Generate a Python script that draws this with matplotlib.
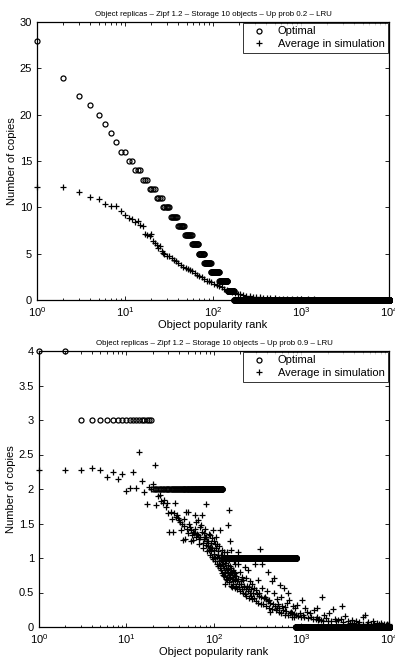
import numpy as np
import matplotlib
matplotlib.use('Agg')
import matplotlib.pyplot as plt
from matplotlib.ticker import LogLocator, NullFormatter, FormatStrFormatter

plt.rcParams['font.family'] = ['Liberation Sans', 'DejaVu Sans']

n_objects = 10000

# optimal number of copies: value and last rank of each step (top: up prob 0.2)
top_opt_values = [28, 24, 22, 21, 20, 19, 18, 17, 16, 15, 14, 13, 12, 11, 10, 9, 8, 7, 6, 5, 4, 3, 2, 1, 0]
top_opt_last = [1, 2, 3, 4, 5, 6, 7, 8, 10, 12, 15, 18, 22, 26, 32, 39, 47, 57, 68, 79, 94, 117, 146, 172, 10000]

# average in simulation (top)
top_sim_rank = [1, 2, 3, 4, 5, 6, 7, 8, 9, 10, 11, 12, 13, 14, 15, 16, 17, 18, 19, 20, 21, 22, 23, 24, 25,
                26, 27, 28, 30, 32, 34, 36, 38, 40, 43, 46, 49, 52, 55, 58, 62, 66, 70, 75, 80, 85, 90, 96,
                102, 110, 118, 126, 135, 145, 155, 165, 178, 190, 205, 220, 240, 260, 285, 310, 340, 370,
                410, 450, 500, 560, 620, 700, 800, 900, 1000, 1200, 1400, 1700, 2000, 2500, 3000, 3700,
                4500, 5500, 7000, 8500, 10000]
top_sim_value = [12.2, 12.2, 11.7, 11.1, 10.9, 10.4, 10.1, 10.1, 9.6, 9.2, 8.8, 8.7, 8.4, 8.5, 8.1, 8.0,
                 7.1, 7.0, 6.9, 7.1, 6.4, 6.2, 5.9, 5.6, 5.8, 5.3, 5.1, 5.0, 4.8, 4.7, 4.5, 4.3, 4.2, 4.0,
                 3.8, 3.6, 3.4, 3.35, 3.2, 3.1, 2.9, 2.7, 2.6, 2.5, 2.3, 2.1, 2.0, 1.9, 1.75, 1.6, 1.5,
                 1.35, 1.2, 1.1, 0.95, 0.85, 0.75, 0.65, 0.6, 0.5, 0.45, 0.4, 0.35, 0.3, 0.28, 0.25, 0.22,
                 0.2, 0.18, 0.15, 0.13, 0.12, 0.1, 0.09, 0.08, 0.07, 0.06, 0.05, 0.05, 0.04, 0.03, 0.03,
                 0.02, 0.02, 0.02, 0.01, 0.01]

# bottom: up prob 0.9
bot_opt_values = [4, 3, 2, 1, 0]
bot_opt_last = [2, 19, 125, 865, 10000]

bot_sim_rank = [1, 2, 3, 4, 5, 6, 7, 8, 9, 10, 11, 12, 13, 14, 15, 16, 17, 18, 19, 20, 21, 22, 23, 24,
                25, 26, 27, 28, 29, 30, 31, 32, 33, 34, 35, 36, 37, 38, 39, 40, 41, 42, 43, 44, 45, 46,
                47, 48, 49, 50, 51, 52, 53, 54, 55, 56, 57, 58, 59, 60, 61, 62, 63, 64, 66, 67, 69, 70,
                72, 74, 76, 77, 79, 80, 82, 84, 85, 87, 88, 90, 92, 94, 96, 98, 100, 102, 104, 107, 109,
                112, 114, 117, 118, 120, 122, 125, 126, 128, 132, 135, 137, 140, 143, 145, 146, 148, 149,
                152, 154, 156, 158, 160, 163, 166, 168, 170, 173, 175, 178, 182, 186, 188, 190, 195, 200,
                205, 210, 215, 220, 226, 232, 238, 245, 250, 258, 262, 270, 282, 285, 293, 300, 310, 318,
                325, 330, 336, 340, 345, 350, 355, 370, 380, 390, 400, 410, 418, 425, 435, 440, 455, 470,
                480, 490, 500, 520, 530, 545, 560, 570, 580, 600, 610, 630, 640, 660, 680, 700, 720, 740,
                760, 780, 800, 820, 840, 870, 900, 920, 950, 980, 1010, 1050, 1080, 1100, 1150, 1200,
                1250, 1300, 1350, 1400, 1450, 1490, 1500, 1550, 1600, 1650, 1700, 1750, 1800, 1900, 2000,
                2050, 2200, 2270, 2400, 2500, 2600, 2800, 2900, 3000, 3160, 3400, 3600, 3800, 4000, 4200,
                4400, 4600, 5000, 5100, 5300, 5600, 5800, 6200, 6500, 6800, 7200, 7600, 8000, 8400, 8800,
                9200, 9500, 9800, 10000,
                65, 68, 71, 73, 75, 78, 81, 83, 86, 89, 91, 93, 95, 97, 99, 101, 103, 105, 106, 108, 110,
                111, 113, 115, 116, 119, 121, 123, 124, 127, 129, 130, 131, 133, 134, 136, 138, 139, 141,
                142, 144, 147, 150, 151, 153, 155, 157, 159, 162, 165, 167, 169, 172, 176, 180, 184, 192,
                198, 202, 208, 212, 218, 224, 230, 235, 242, 248, 255, 265, 275, 290, 305, 315, 360, 395,
                430, 460, 510, 550, 590, 650, 710, 770, 830]
bot_sim_value = [2.28, 2.28, 2.28, 2.31, 2.27, 2.17, 2.24, 2.14, 2.22, 1.97, 2.02, 2.25, 2.02, 2.54,
                 2.11, 1.96, 1.78, 2.03, 2.0, 2.07, 2.35, 1.77, 1.9, 1.91, 1.83, 1.8, 1.84, 1.74, 1.79,
                 1.65, 1.38, 1.67, 1.56, 1.37, 1.65, 1.8, 1.6, 1.62, 1.58, 1.55, 1.52, 1.41, 1.5, 1.26,
                 1.56, 1.47, 1.28, 1.67, 1.42, 1.36, 1.67, 1.49, 1.45, 1.4, 1.25, 1.33, 1.38, 1.26, 1.36,
                 1.42, 1.62, 1.3, 1.52, 1.35, 1.33, 1.28, 1.45, 1.31, 1.62, 1.22, 1.36, 1.27, 1.3, 1.19,
                 1.78, 1.24, 1.18, 1.35, 1.12, 1.16, 1.1, 1.29, 1.02, 1.41, 1.06, 1.2, 1.0, 1.21, 1.02,
                 1.05, 0.96, 1.41, 0.9, 0.97, 1.12, 0.78, 0.88, 0.92, 1.0, 0.63, 0.86, 1.09, 0.78, 0.84,
                 1.48, 0.97, 1.7, 1.24, 0.71, 0.8, 1.12, 0.78, 0.66, 0.83, 0.75, 0.95, 0.92, 0.78, 0.74,
                 0.67, 1.09, 0.7, 0.92, 0.63, 0.8, 0.66, 0.72, 0.68, 0.6, 0.87, 0.71, 0.6, 0.82, 0.58,
                 0.66, 0.55, 0.62, 0.5, 0.57, 0.92, 0.54, 0.48, 0.68, 0.5, 0.45, 1.13, 0.34, 0.44, 0.56,
                 0.92, 0.42, 0.44, 0.4, 0.52, 0.37, 0.8, 0.39, 0.35, 0.22, 0.66, 0.33, 0.71, 0.49, 0.3,
                 0.4, 0.28, 0.34, 0.27, 0.61, 0.44, 0.3, 0.25, 0.56, 0.29, 0.23, 0.35, 0.49, 0.39, 0.21,
                 0.22, 0.2, 0.3, 0.19, 0.27, 0.17, 0.32, 0.16, 0.2, 0.15, 0.39, 0.18, 0.14, 0.27, 0.22,
                 0.13, 0.2, 0.15, 0.12, 0.25, 0.11, 0.28, 0.15, 0.1, 0.12, 0.1, 0.44, 0.09, 0.18, 0.13,
                 0.09, 0.2, 0.08, 0.26, 0.12, 0.08, 0.1, 0.11, 0.3, 0.07, 0.16, 0.09, 0.06, 0.1, 0.06,
                 0.08, 0.05, 0.07, 0.05, 0.14, 0.18, 0.05, 0.07, 0.04, 0.08, 0.04, 0.06, 0.04, 0.06,
                 0.03, 0.05, 0.03, 0.05, 0.03, 0.04,
                 1.55, 1.2, 1.48, 1.38, 1.15, 1.42, 1.3, 1.1, 1.25, 1.33, 1.05, 1.22, 1.15, 0.98, 1.25,
                 1.12, 0.95, 1.15, 1.3, 0.92, 1.1, 0.88, 1.18, 1.0, 0.85, 1.05, 0.82, 0.95, 1.04, 0.76,
                 1.08, 0.86, 0.74, 0.93, 0.8, 0.7, 0.95, 0.72, 0.82, 0.68, 0.9, 0.75, 0.65, 0.88, 0.78,
                 0.6, 0.85, 0.7, 0.58, 0.72, 0.62, 0.8, 0.56, 0.68, 0.6, 0.55, 0.58, 0.52, 0.62, 0.55,
                 0.5, 0.58, 0.48, 0.55, 0.45, 0.52, 0.42, 0.5, 0.45, 0.4, 0.42, 0.38, 0.35, 0.33, 0.3,
                 0.28, 0.26, 0.24, 0.22, 0.2, 0.18, 0.17, 0.15, 0.14]

titles = ['Object replicas \u2013 Zipf 1.2 \u2013 Storage 10 objects \u2013 Up prob 0.2 \u2013 LRU',
          'Object replicas \u2013 Zipf 1.2 \u2013 Storage 10 objects \u2013 Up prob 0.9 \u2013 LRU']


def expand_steps(values, last):
    # turn step values + last ranks into one value per rank
    counts = np.diff(np.concatenate([[0], last]))
    return np.arange(1, n_objects + 1), np.repeat(values, counts)


fig = plt.figure(figsize=(3.95, 6.6), dpi=100)
ax1 = fig.add_axes([37 / 395, 1 - 300 / 660, 352 / 395, 278 / 660])
ax2 = fig.add_axes([39 / 395, 1 - 627 / 660, 350 / 395, 276 / 660])

panels = [
    (ax1, top_opt_values, top_opt_last, top_sim_rank, top_sim_value, 30, 5, titles[0]),
    (ax2, bot_opt_values, bot_opt_last, bot_sim_rank, bot_sim_value, 4, 0.5, titles[1]),
]

for ax, ov, ol, sr, sv, ymax, ystep, title in panels:
    r, v = expand_steps(ov, ol)
    ax.plot(r, v, 'o', color='black', markerfacecolor='none', ms=3.6, mew=0.9,
            clip_on=False, label='Optimal')
    ax.plot(sr, sv, '+', color='black', ms=4.5, mew=0.9, clip_on=False,
            label='Average in simulation')
    ax.set_xscale('log')
    ax.set_xlim(1, n_objects)
    ax.set_ylim(0, ymax)
    ax.set_yticks(np.arange(0, ymax + ystep / 2, ystep))
    ax.yaxis.set_major_formatter(FormatStrFormatter('%g'))
    ax.xaxis.set_minor_locator(LogLocator(base=10, subs=np.arange(2, 10), numticks=20))
    ax.xaxis.set_minor_formatter(NullFormatter())
    ax.tick_params(which='both', direction='in', top=True, right=True, labelsize=8, width=0.6)
    ax.tick_params(which='major', length=3)
    ax.tick_params(which='minor', length=1.8)
    for s in ax.spines.values():
        s.set_linewidth(0.9)
    ax.set_xlabel('Object popularity rank', fontsize=8, labelpad=1)
    ax.set_ylabel('Number of copies', fontsize=8, labelpad=2)
    ax.set_title(title, fontsize=5.7, pad=4)
    leg = ax.legend(loc='upper right', fontsize=8, frameon=True, fancybox=False,
                    borderaxespad=0.1, handletextpad=0.6, borderpad=0.3,
                    labelspacing=0.25, handlelength=2.2)
    leg.get_frame().set_edgecolor('black')
    leg.get_frame().set_linewidth(0.7)

fig.savefig('out.png', dpi=100)
